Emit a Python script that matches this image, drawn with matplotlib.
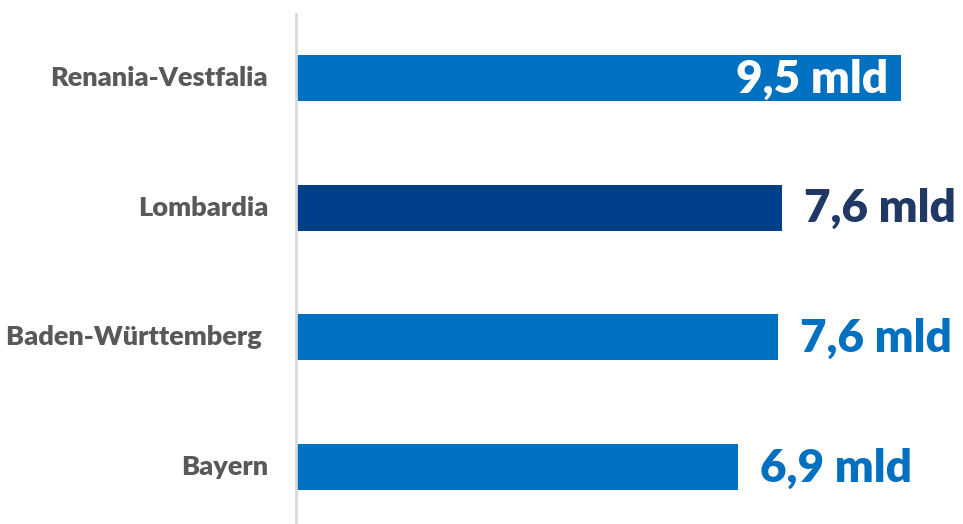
import matplotlib
matplotlib.use("Agg")
import matplotlib.pyplot as plt
from matplotlib.transforms import blended_transform_factory, offset_copy

categories = ["Bayern", "Baden-Württemberg ", "Lombardia", "Renania-Vestfalia"]
values = [6.94, 7.57, 7.63, 9.5]
value_labels = ["6,9 mld", "7,6 mld", "7,6 mld", "9,5 mld"]
bar_colors = ["#0070C0", "#0070C0", "#00408A", "#0070C0"]
label_colors = ["#0070C0", "#0070C0", "#1F3864", "#FFFFFF"]
inside = [False, False, False, True]

W, H = 963, 524
fig = plt.figure(figsize=(W / 100, H / 100), dpi=100)
ax = fig.add_axes([296 / W, 0, 667 / W, 1 - 14 / H])

ypos = list(range(len(categories)))
ax.barh(ypos, values, height=0.355, color=bar_colors, left=0)
ax.set_xlim(0, 667 / 63.68)
ax.set_ylim(-0.44, 3.493)

for s in ["top", "right", "bottom"]:
    ax.spines[s].set_visible(False)
ax.spines["left"].set_color("#D9D9D9")
ax.spines["left"].set_linewidth(2)
ax.set_xticks([])
ax.set_yticks([])

font = "Lato"
trans_lbl = offset_copy(blended_transform_factory(ax.transAxes, ax.transData), fig=fig, x=-28, y=0, units="dots")
for y, c in zip(ypos, categories):
    ax.text(0, y, c, transform=trans_lbl, ha="right", va="center",
            fontsize=19.5, fontweight="heavy", color="#595959", family=font)

for y, v, lab, col, ins in zip(ypos, values, value_labels, label_colors, inside):
    if ins:
        t = offset_copy(ax.transData, fig=fig, x=-13, y=-1, units="dots")
        ax.text(v, y, lab, transform=t, ha="right", va="center", fontsize=33,
                fontweight="heavy", color=col, family=font)
    else:
        t = offset_copy(ax.transData, fig=fig, x=22, y=-1, units="dots")
        ax.text(v, y, lab, transform=t, ha="left", va="center", fontsize=33,
                fontweight="heavy", color=col, family=font)

fig.savefig("out.png", dpi=100)
